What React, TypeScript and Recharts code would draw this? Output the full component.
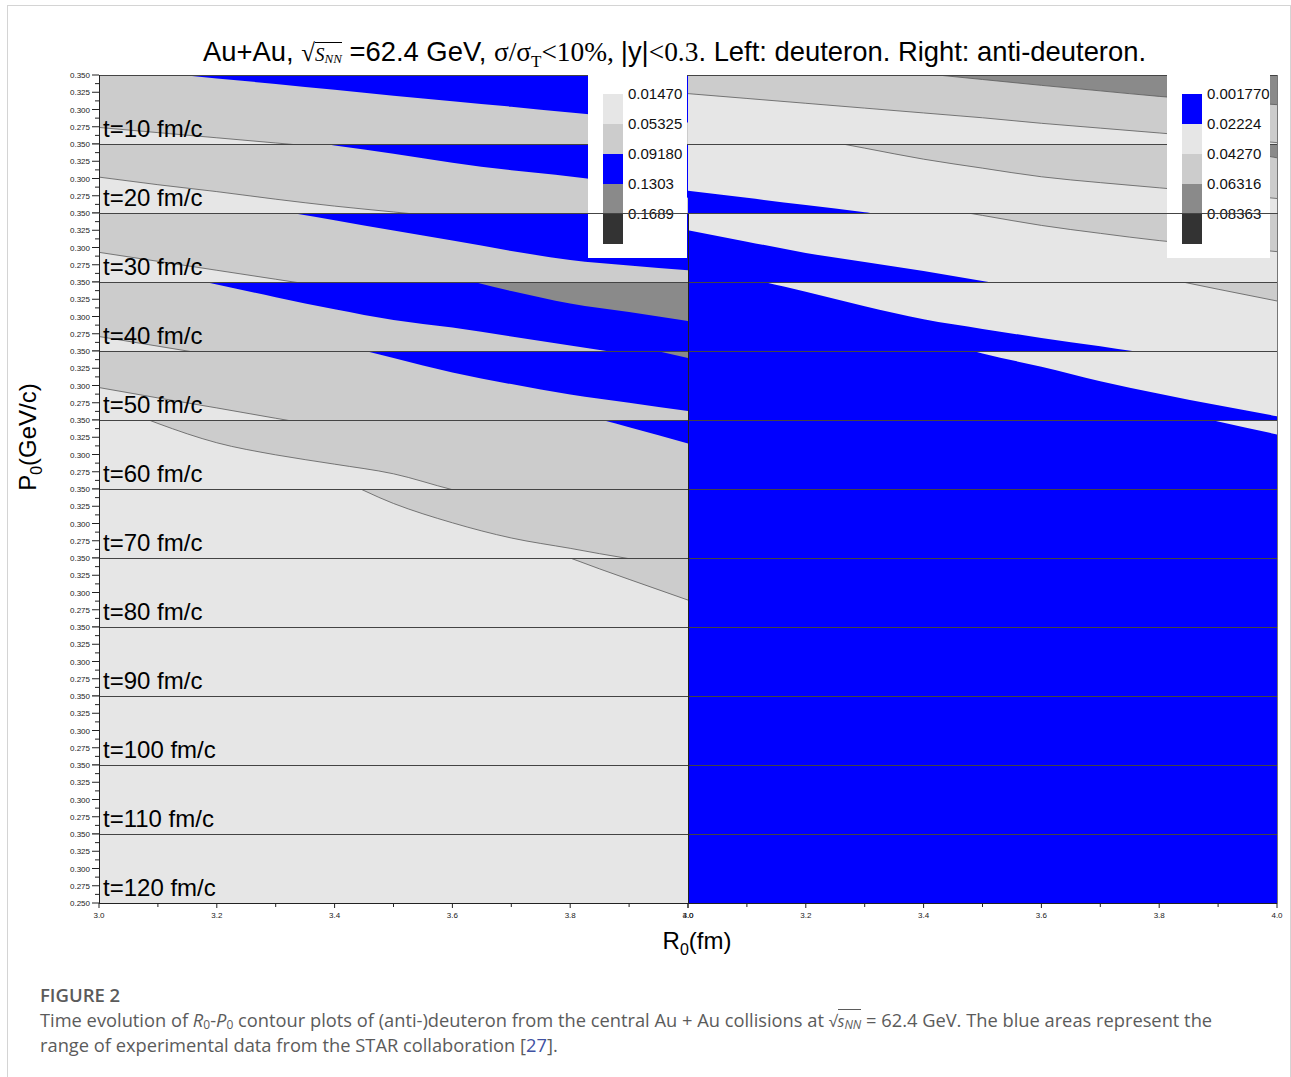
import React from "react";
import { AreaChart, Area, XAxis, YAxis, CartesianGrid } from "recharts";

// R0 sample points (fm), shared by every contour boundary below
const R0 = [3.0, 3.1, 3.2, 3.3, 3.4, 3.5, 3.6, 3.7, 3.8, 3.9, 4.0];
const rTopTicks = [3.1, 3.2, 3.3, 3.4, 3.5, 3.6, 3.7, 3.8, 3.9];
const pTicks = [0.25, 0.2625, 0.275, 0.2875, 0.3, 0.3125, 0.325, 0.3375, 0.35];
const times = [10, 20, 30, 40, 50, 60, 70, 80, 90, 100, 110, 120];
const deuteronLevels = ["0.01470", "0.05325", "0.09180", "0.1303", "0.1689"];
const antiLevels = ["0.001770", "0.02224", "0.04270", "0.06316", "0.08363"];

const LIGHT = "#e6e6e6";
const MID = "#cccccc";
const BLUE = "#0000ff";
const DARK = "#8a8a8a";
const DARKEST = "#333333";

// deuteron: P0 of each contour boundary at R0
const d10_hi = [0.362, 0.3535, 0.345, 0.337, 0.3285, 0.32, 0.312, 0.304, 0.2955, 0.2875, 0.281];
const d10_lo = [0.274, 0.2665, 0.259, 0.2515, 0.244, 0.237, 0.23, 0.222, 0.215, 0.208, 0.2];
const d20_hi = [0.4, 0.385, 0.372, 0.36, 0.348, 0.336, 0.323, 0.312, 0.303, 0.291, 0.272];
const d20_lo = [0.302, 0.291, 0.281, 0.27, 0.26, 0.2515, 0.243, 0.235, 0.227, 0.219, 0.211];
const d30_hi = [0.4, 0.385, 0.369, 0.354, 0.3395, 0.3245, 0.31, 0.295, 0.282, 0.274, 0.267];
const d30_lo = [0.293, 0.28, 0.267, 0.254, 0.241, 0.228, 0.215, 0.2, 0.19, 0.18, 0.17];
const d40_top = [0.48, 0.465, 0.45, 0.43, 0.41, 0.38, 0.358, 0.337, 0.319, 0.3065, 0.2935];
const d40_hi = [0.38, 0.364, 0.3465, 0.328, 0.3105, 0.295, 0.284, 0.271, 0.258, 0.245, 0.232];
const d40_lo = [0.271, 0.257, 0.243, 0.229, 0.215, 0.2, 0.19, 0.18, 0.17, 0.16, 0.15];
const d50_top = [0.6, 0.58, 0.56, 0.54, 0.52, 0.5, 0.48, 0.455, 0.4, 0.362, 0.34];
const d50_hi = [0.44, 0.42, 0.4, 0.382, 0.361, 0.34, 0.319, 0.302, 0.287, 0.275, 0.263];
const d50_lo = [0.297, 0.282, 0.2675, 0.2525, 0.238, 0.224, 0.21, 0.2, 0.19, 0.18, 0.17];
const d60_hi = [0.55, 0.53, 0.51, 0.49, 0.47, 0.45, 0.43, 0.39, 0.363, 0.3395, 0.316];
const d60_lo = [0.38, 0.345, 0.317, 0.2995, 0.286, 0.272, 0.249, 0.23, 0.21, 0.19, 0.17];
const d70_lo = [0.5, 0.46, 0.43, 0.4, 0.367, 0.329, 0.301, 0.279, 0.264, 0.249, 0.238];
const d80_lo = [0.62, 0.59, 0.56, 0.53, 0.5, 0.46, 0.42, 0.385, 0.35, 0.319, 0.289];

// anti-deuteron
const a10_hi = [0.386, 0.3775, 0.369, 0.3605, 0.352, 0.3435, 0.335, 0.327, 0.319, 0.3125, 0.307];
const a10_lo = [0.323, 0.316, 0.309, 0.302, 0.295, 0.288, 0.28, 0.273, 0.266, 0.259, 0.252];
const a20_hi = [0.5, 0.48, 0.46, 0.44, 0.42, 0.4, 0.385, 0.372, 0.36, 0.345, 0.33];
const a20_mid = [0.394, 0.377, 0.36, 0.344, 0.328, 0.315, 0.3025, 0.294, 0.2865, 0.279, 0.271];
const a20_lo = [0.2824, 0.272, 0.2615, 0.251, 0.24, 0.229, 0.218, 0.207, 0.196, 0.185, 0.174];
const a30_mid = [0.43, 0.413, 0.395, 0.378, 0.361, 0.3465, 0.332, 0.3205, 0.31, 0.302, 0.294];
const a30_lo = [0.325, 0.3085, 0.292, 0.279, 0.266, 0.2515, 0.237, 0.222, 0.207, 0.192, 0.177];
const a40_mid = [0.5, 0.48, 0.46, 0.44, 0.42, 0.4, 0.39, 0.375, 0.357, 0.3395, 0.3225];
const a40_lo = [0.39, 0.357, 0.336, 0.315, 0.296, 0.282, 0.269, 0.257, 0.244, 0.231, 0.218];
const a50_lo = [0.45, 0.43, 0.41, 0.39, 0.37, 0.3465, 0.327, 0.306, 0.288, 0.2712, 0.2555];
const a60_lo = [0.54, 0.52, 0.5, 0.48, 0.46, 0.44, 0.42, 0.4, 0.3665, 0.348, 0.329];

type Layer = { vals: number[]; fill: string; line?: boolean };
type PanelDef = { bg: string; layers: Layer[] };

const deuteron: PanelDef[] = [
  { bg: BLUE, layers: [{ vals: d10_hi, fill: MID }, { vals: d10_lo, fill: LIGHT, line: true }] },
  { bg: BLUE, layers: [{ vals: d20_hi, fill: MID }, { vals: d20_lo, fill: LIGHT, line: true }] },
  { bg: BLUE, layers: [{ vals: d30_hi, fill: MID }, { vals: d30_lo, fill: LIGHT, line: true }] },
  { bg: DARK, layers: [{ vals: d40_top, fill: BLUE }, { vals: d40_hi, fill: MID }, { vals: d40_lo, fill: LIGHT, line: true }] },
  { bg: DARK, layers: [{ vals: d50_top, fill: BLUE }, { vals: d50_hi, fill: MID }, { vals: d50_lo, fill: LIGHT, line: true }] },
  { bg: BLUE, layers: [{ vals: d60_hi, fill: MID }, { vals: d60_lo, fill: LIGHT, line: true }] },
  { bg: MID, layers: [{ vals: d70_lo, fill: LIGHT, line: true }] },
  { bg: MID, layers: [{ vals: d80_lo, fill: LIGHT, line: true }] },
  { bg: LIGHT, layers: [] },
  { bg: LIGHT, layers: [] },
  { bg: LIGHT, layers: [] },
  { bg: LIGHT, layers: [] },
];

const antiDeuteron: PanelDef[] = [
  { bg: DARK, layers: [{ vals: a10_hi, fill: MID, line: true }, { vals: a10_lo, fill: LIGHT, line: true }] },
  { bg: DARK, layers: [{ vals: a20_hi, fill: MID, line: true }, { vals: a20_mid, fill: LIGHT, line: true }, { vals: a20_lo, fill: BLUE }] },
  { bg: MID, layers: [{ vals: a30_mid, fill: LIGHT, line: true }, { vals: a30_lo, fill: BLUE }] },
  { bg: MID, layers: [{ vals: a40_mid, fill: LIGHT, line: true }, { vals: a40_lo, fill: BLUE }] },
  { bg: LIGHT, layers: [{ vals: a50_lo, fill: BLUE }] },
  { bg: LIGHT, layers: [{ vals: a60_lo, fill: BLUE }] },
  { bg: BLUE, layers: [] },
  { bg: BLUE, layers: [] },
  { bg: BLUE, layers: [] },
  { bg: BLUE, layers: [] },
  { bg: BLUE, layers: [] },
  { bg: BLUE, layers: [] },
];

const SANS = "'Liberation Sans', Arial, sans-serif";
const SERIF = "'Liberation Serif', 'Times New Roman', serif";
const CAP = "'Open Sans', 'Noto Sans', sans-serif";

const PLOT_TOP = 75;
const ROW_H = 69;
const PLOT_W = 589;
const LEFT_X = 99;
const MID_X = 688;
const rowTop = (i: number) => PLOT_TOP + i * ROW_H;
const PAD = 6;
const RPAD = 12;

function PTick(props: any) {
  const { x, y, payload, showBottom } = props;
  const v = payload.value as number;
  const m = Math.round(v * 10000);
  const major = m % 250 === 0;
  const label = major && (showBottom || m !== 2500);
  return (
    <g>
      <line x1={x + (major ? 2 : 5)} x2={x + 9} y1={y} y2={y} stroke="#222" strokeWidth={1} />
      {label && (
        <text x={x} y={y} dy={3} textAnchor="end" fontSize={8} fill="#222">
          {v.toFixed(3)}
        </text>
      )}
    </g>
  );
}

function RTick(props: any) {
  const { x, y, payload } = props;
  const v = payload.value as number;
  const major = Math.round(v * 10) % 2 === 0;
  return (
    <g>
      <line x1={x} x2={x} y1={y - 9} y2={y - 9 + (major ? 5 : 4)} stroke="#222" strokeWidth={1} />
      {major && (
        <text x={x} y={y} dy={6} textAnchor="middle" fontSize={8} fill="#222">
          {v.toFixed(1)}
        </text>
      )}
    </g>
  );
}

function Panel({ def, row, left }: { def: PanelDef; row: number; left: boolean }) {
  const last = row === times.length - 1;
  const yW = left ? 40 : 0;
  const lPad = left ? 0 : 12;
  const axisH = last ? 22 : 0;
  const data = R0.map((r, i) => {
    const o: Record<string, number> = { r };
    def.layers.forEach((l, j) => {
      o["c" + j] = l.vals[i];
    });
    return o;
  });
  return (
    <div style={{ position: "absolute", left: (left ? LEFT_X : MID_X) - yW - lPad, top: rowTop(row) - PAD }}>
      <AreaChart
        width={PLOT_W + yW + lPad + RPAD}
        height={ROW_H + PAD + axisH}
        data={data}
        margin={{ top: PAD, right: RPAD, bottom: 0, left: lPad }}
      >
        <CartesianGrid fill={def.bg} fillOpacity={1} horizontal={false} vertical={false} stroke="none" />
        <XAxis
          xAxisId="t"
          orientation="top"
          dataKey="r"
          type="number"
          domain={[3, 4]}
          allowDataOverflow
          ticks={rTopTicks}
          tick={false}
          tickSize={3}
          mirror
          height={0}
          axisLine={false}
          tickLine={{ stroke: "#555" }}
        />
        <XAxis
          dataKey="r"
          type="number"
          domain={[3, 4]}
          allowDataOverflow
          hide={!last}
          ticks={R0}
          height={axisH}
          tickSize={6}
          tickMargin={3}
          tickLine={false}
          axisLine={false}
          interval={0}
          tick={(p: any) => <RTick {...p} />}
        />
        <YAxis
          type="number"
          domain={[0.25, 0.35]}
          allowDataOverflow
          hide={!left}
          width={yW}
          ticks={pTicks}
          tickSize={7}
          tickMargin={2}
          tickLine={false}
          axisLine={false}
          interval={0}
          tick={(p: any) => <PTick {...p} showBottom={last} />}
        />
        {def.layers.map((l, j) => (
          <Area
            key={j}
            dataKey={"c" + j}
            type="monotone"
            baseValue={0.25}
            fill={l.fill}
            fillOpacity={1}
            stroke={l.line ? "#5a5a5a" : "none"}
            strokeWidth={0.8}
            dot={false}
            activeDot={false}
            isAnimationActive={false}
          />
        ))}
      </AreaChart>
    </div>
  );
}

function Legend({ x, y, w, swatchX, colors, labels }: { x: number; y: number; w: number; swatchX: number; colors: string[]; labels: string[] }) {
  return (
    <div style={{ position: "absolute", left: x, top: y, width: w, height: 183, background: "#fff" }}>
      {colors.map((c, i) => (
        <div key={"s" + i} style={{ position: "absolute", left: swatchX, top: 19 + i * 30, width: 20, height: 30, background: c }} />
      ))}
      {labels.map((t, i) => (
        <div
          key={"l" + i}
          style={{ position: "absolute", left: swatchX + 25, top: 19 + i * 30 - 9, fontSize: 15, lineHeight: "18px", fontFamily: SANS, color: "#111" }}
        >
          {t}
        </div>
      ))}
    </div>
  );
}

const hLine = (y: number, key: string, color = "#444") => (
  <div key={key} style={{ position: "absolute", left: LEFT_X, top: y, width: PLOT_W * 2 + 1, height: 1, background: color }} />
);

export default function App() {
  const sub = (t: string, size: number, drop: number) => (
    <span style={{ fontSize: size, position: "relative", top: drop, lineHeight: 0 }}>{t}</span>
  );
  return (
    <div style={{ position: "absolute", left: 0, top: 0, width: 1291, height: 1077, background: "#fff", fontFamily: SANS, overflow: "hidden" }}>
      <div style={{ position: "absolute", left: 7, top: 5, width: 1282, height: 1100, border: "1px solid #d4d4d4" }} />

      {/* title */}
      <div style={{ position: "absolute", left: 203, top: 36, fontSize: 27.4, whiteSpace: "nowrap", color: "#000", fontFamily: SANS }}>
        Au+Au,{" "}
        <span style={{ fontFamily: SERIF, fontSize: 25 }}>√</span>
        <span style={{ fontFamily: SERIF, fontStyle: "italic", fontSize: 19, borderTop: "1px solid #000", paddingTop: 1 }}>
          S{sub("NN", 13, 2)}
        </span>{" "}
        =62.4 GeV, <span style={{ fontFamily: SERIF }}>σ/σ{sub("T", 17, 6)}&lt;10%, </span>|y|
        <span style={{ fontFamily: SERIF }}>&lt;0.3</span>. Left: deuteron. Right: anti-deuteron.
      </div>

      {deuteron.map((d, i) => (
        <Panel key={"d" + i} def={d} row={i} left />
      ))}
      {antiDeuteron.map((d, i) => (
        <Panel key={"a" + i} def={d} row={i} left={false} />
      ))}

      {/* panel frames */}
      {times.map((_, i) => (i === 2 ? null : hLine(rowTop(i), "h" + i)))}
      {hLine(rowTop(times.length), "hb", "#222")}
      <div style={{ position: "absolute", left: LEFT_X, top: PLOT_TOP, width: 1, height: ROW_H * 12 + 1, background: "#222" }} />
      <div style={{ position: "absolute", left: MID_X, top: rowTop(2), width: 1, height: ROW_H * 10 + 1, background: "#222" }} />
      <div style={{ position: "absolute", left: MID_X + PLOT_W, top: PLOT_TOP, width: 1, height: ROW_H * 12 + 1, background: "#777" }} />

      <Legend x={588} y={PLOT_TOP} w={99} swatchX={15} colors={[LIGHT, MID, BLUE, DARK, DARKEST]} labels={deuteronLevels} />
      <Legend x={1167} y={PLOT_TOP} w={103} swatchX={15} colors={[BLUE, LIGHT, MID, DARK, DARKEST]} labels={antiLevels} />
      {hLine(rowTop(2), "h2")}

      {times.map((t, i) => (
        <div
          key={"t" + t}
          style={{ position: "absolute", left: 103, top: rowTop(i) + 42, fontSize: 24, lineHeight: "24px", whiteSpace: "nowrap", color: "#000" }}
        >
          t={t} fm/c
        </div>
      ))}

      {/* axis titles */}
      <div
        style={{
          position: "absolute",
          left: 28 - 80,
          top: 437 - 15,
          width: 160,
          height: 30,
          lineHeight: "30px",
          textAlign: "center",
          fontSize: 24,
          transform: "rotate(-90deg)",
          whiteSpace: "nowrap",
        }}
      >
        P{sub("0", 16, 6)}(GeV/c)
      </div>
      <div style={{ position: "absolute", left: 597, top: 926, width: 200, textAlign: "center", fontSize: 24, lineHeight: "30px" }}>
        R{sub("0", 16, 6)}(fm)
      </div>

      {/* caption */}
      <div style={{ position: "absolute", left: 40, top: 982, fontFamily: CAP, fontSize: 18.5, fontWeight: 600, color: "#5b5b5b", whiteSpace: "nowrap" }}>
        FIGURE 2
      </div>
      <div style={{ position: "absolute", left: 40, top: 1008, height: 23, fontFamily: CAP, fontSize: 18.3, lineHeight: "23px", color: "#5b5b5b", whiteSpace: "nowrap" }}>
        Time evolution of <i>R</i>
        {sub("0", 12, 2)}-<i>P</i>
        {sub("0", 12, 2)} contour plots of (anti-)deuteron from the central Au + Au collisions at{" "}
        <span style={{ fontSize: 16 }}>√</span>
        <span style={{ borderTop: "1px solid #5b5b5b", fontStyle: "italic", fontSize: 16 }}>
          s{sub("NN", 12, 2)}
        </span>{" "}
        = 62.4 GeV. The blue areas represent the
      </div>
      <div style={{ position: "absolute", left: 40, top: 1033, fontFamily: CAP, fontSize: 18.3, lineHeight: "23px", color: "#5b5b5b", whiteSpace: "nowrap" }}>
        range of experimental data from the STAR collaboration [<span style={{ color: "#3f51a3" }}>27</span>].
      </div>
    </div>
  );
}
